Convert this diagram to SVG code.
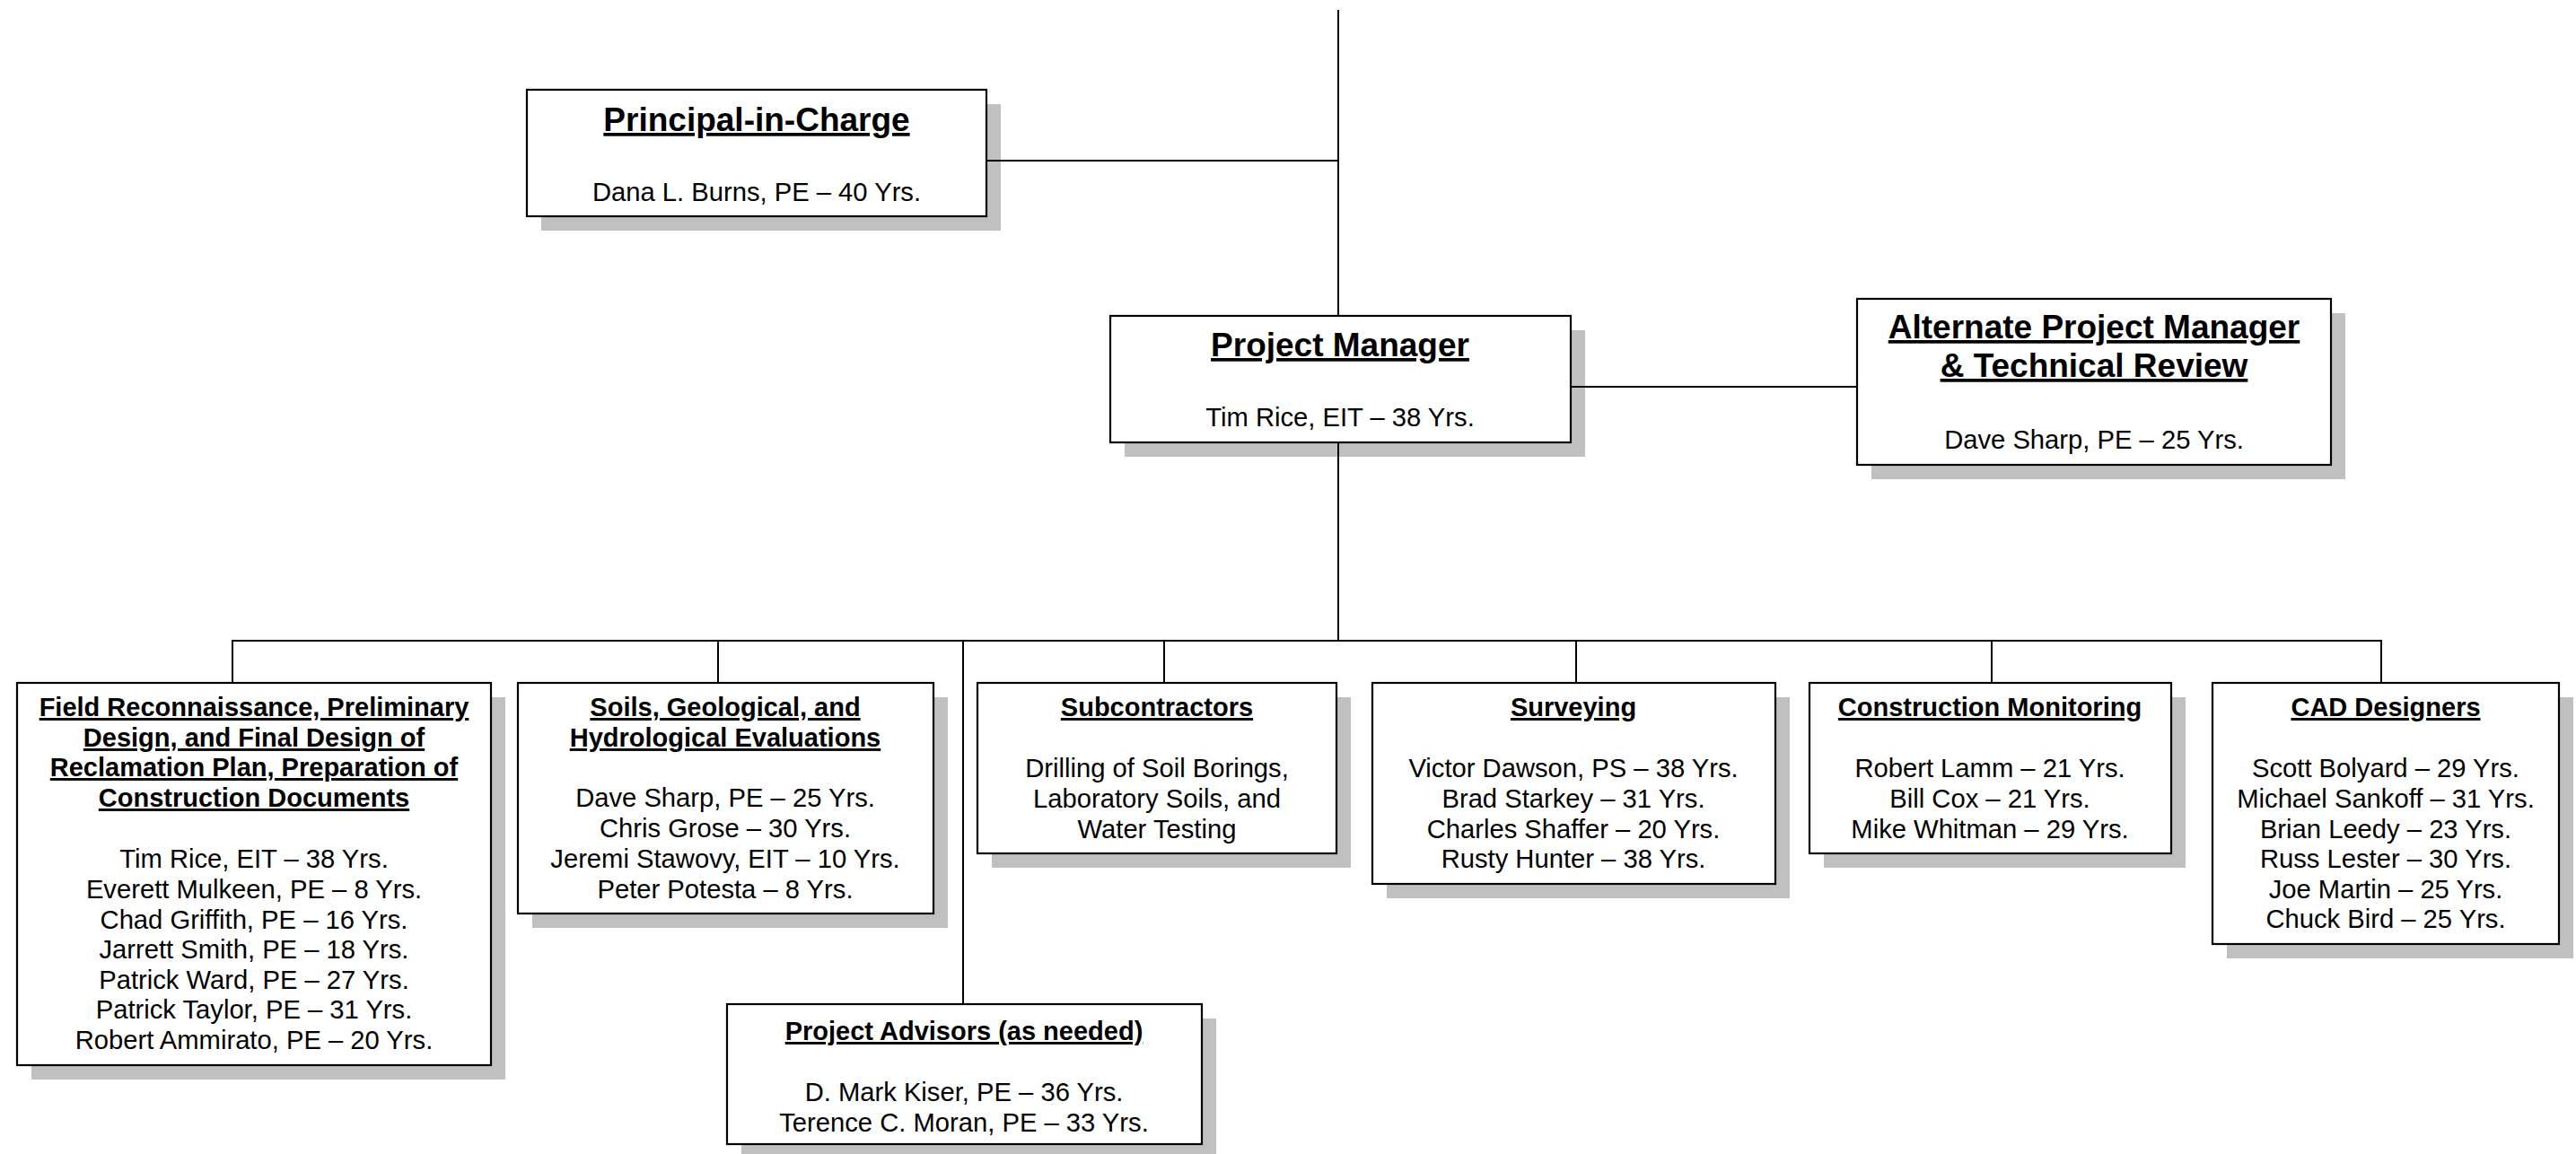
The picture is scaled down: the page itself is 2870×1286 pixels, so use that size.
<svg xmlns="http://www.w3.org/2000/svg" width="2870" height="1286" viewBox="0 0 2870 1286">
<style>
  .bg { fill: #ffffff; }
  .shadow { fill: #c0c0c0; }
  .box { fill: #ffffff; stroke: #000000; stroke-width: 2.2; }
  .conn { stroke: #000000; stroke-width: 2; fill: none; }
  text { font-family: "Liberation Sans", Arial, sans-serif; fill: #000000; text-anchor: middle; }
  .t1 { font-size: 37px; font-weight: bold; text-decoration: underline; }
  .t2 { font-size: 29px; font-weight: bold; text-decoration: underline; }
  .b { font-size: 29.2px; }
</style>
<rect class="bg" x="0" y="0" width="2870" height="1286"/>

<g id="principal">
  <rect class="shadow" x="603" y="116" width="512" height="141"/>
  <rect class="box" x="587" y="100" width="512" height="141"/>
  <text class="t1" x="843" y="146">Principal-in-Charge</text>
  <text class="b" x="843" y="224">Dana L. Burns, PE – 40 Yrs.</text>
</g>

<g id="project-manager">
  <rect class="shadow" x="1253" y="368" width="513" height="141"/>
  <rect class="box" x="1237" y="352" width="513" height="141"/>
  <text class="t1" x="1493" y="397">Project Manager</text>
  <text class="b" x="1493" y="475">Tim Rice, EIT – 38 Yrs.</text>
</g>

<g id="alternate-pm">
  <rect class="shadow" x="2085" y="349" width="528" height="185"/>
  <rect class="box" x="2069" y="333" width="528" height="185"/>
  <text class="t1" x="2333" y="377">Alternate Project Manager</text>
  <text class="t1" x="2333" y="420">&amp; Technical Review</text>
  <text class="b" x="2333" y="500">Dave Sharp, PE – 25 Yrs.</text>
</g>

<g id="field-design">
  <rect class="shadow" x="35" y="777" width="528" height="426"/>
  <rect class="box" x="19" y="761" width="528" height="426"/>
  <text class="t2" x="283" y="798">Field Reconnaissance, Preliminary</text>
  <text class="t2" x="283" y="832">Design, and Final Design of</text>
  <text class="t2" x="283" y="865">Reclamation Plan, Preparation of</text>
  <text class="t2" x="283" y="899">Construction Documents</text>
  <text class="b" x="283" y="967">Tim Rice, EIT – 38 Yrs.</text>
  <text class="b" x="283" y="1001">Everett Mulkeen, PE – 8 Yrs.</text>
  <text class="b" x="283" y="1035">Chad Griffith, PE – 16 Yrs.</text>
  <text class="b" x="283" y="1068">Jarrett Smith, PE – 18 Yrs.</text>
  <text class="b" x="283" y="1102">Patrick Ward, PE – 27 Yrs.</text>
  <text class="b" x="283" y="1135">Patrick Taylor, PE – 31 Yrs.</text>
  <text class="b" x="283" y="1169">Robert Ammirato, PE – 20 Yrs.</text>
</g>

<g id="soils">
  <rect class="shadow" x="593" y="777" width="463" height="257"/>
  <rect class="box" x="577" y="761" width="463" height="257"/>
  <text class="t2" x="808" y="798">Soils, Geological, and</text>
  <text class="t2" x="808" y="832">Hydrological Evaluations</text>
  <text class="b" x="808" y="899">Dave Sharp, PE – 25 Yrs.</text>
  <text class="b" x="808" y="933">Chris Grose – 30 Yrs.</text>
  <text class="b" x="808" y="967">Jeremi Stawovy, EIT – 10 Yrs.</text>
  <text class="b" x="808" y="1001">Peter Potesta – 8 Yrs.</text>
</g>

<g id="subcontractors">
  <rect class="shadow" x="1105" y="777" width="400" height="190"/>
  <rect class="box" x="1089" y="761" width="400" height="190"/>
  <text class="t2" x="1289" y="798">Subcontractors</text>
  <text class="b" x="1289" y="866">Drilling of Soil Borings,</text>
  <text class="b" x="1289" y="900">Laboratory Soils, and</text>
  <text class="b" x="1289" y="934">Water Testing</text>
</g>

<g id="surveying">
  <rect class="shadow" x="1545" y="777" width="449" height="224"/>
  <rect class="box" x="1529" y="761" width="449" height="224"/>
  <text class="t2" x="1753" y="798">Surveying</text>
  <text class="b" x="1753" y="866">Victor Dawson, PS – 38 Yrs.</text>
  <text class="b" x="1753" y="900">Brad Starkey – 31 Yrs.</text>
  <text class="b" x="1753" y="934">Charles Shaffer – 20 Yrs.</text>
  <text class="b" x="1753" y="967">Rusty Hunter – 38 Yrs.</text>
</g>

<g id="construction-monitoring">
  <rect class="shadow" x="2032" y="777" width="403" height="190"/>
  <rect class="box" x="2016" y="761" width="403" height="190"/>
  <text class="t2" x="2217" y="798">Construction Monitoring</text>
  <text class="b" x="2217" y="866">Robert Lamm – 21 Yrs.</text>
  <text class="b" x="2217" y="900">Bill Cox – 21 Yrs.</text>
  <text class="b" x="2217" y="934">Mike Whitman – 29 Yrs.</text>
</g>

<g id="cad-designers">
  <rect class="shadow" x="2481" y="777" width="386" height="291"/>
  <rect class="box" x="2465" y="761" width="386" height="291"/>
  <text class="t2" x="2658" y="798">CAD Designers</text>
  <text class="b" x="2658" y="866">Scott Bolyard – 29 Yrs.</text>
  <text class="b" x="2658" y="900">Michael Sankoff – 31 Yrs.</text>
  <text class="b" x="2658" y="934">Brian Leedy – 23 Yrs.</text>
  <text class="b" x="2658" y="967">Russ Lester – 30 Yrs.</text>
  <text class="b" x="2658" y="1001">Joe Martin – 25 Yrs.</text>
  <text class="b" x="2658" y="1034">Chuck Bird – 25 Yrs.</text>
</g>

<g id="project-advisors">
  <rect class="shadow" x="826" y="1135" width="529" height="156"/>
  <rect class="box" x="810" y="1119" width="529" height="156"/>
  <text class="t2" x="1074" y="1159">Project Advisors (as needed)</text>
  <text class="b" x="1074" y="1227">D. Mark Kiser, PE – 36 Yrs.</text>
  <text class="b" x="1074" y="1261">Terence C. Moran, PE – 33 Yrs.</text>
</g>

<g id="connectors">
  <line class="conn" x1="1491" y1="11" x2="1491" y2="352"/>
  <line class="conn" x1="1099" y1="179" x2="1491" y2="179"/>
  <line class="conn" x1="1750" y1="431" x2="2069" y2="431"/>
  <line class="conn" x1="1491" y1="493" x2="1491" y2="714"/>
  <line class="conn" x1="258" y1="714" x2="2654" y2="714"/>
  <line class="conn" x1="259" y1="714" x2="259" y2="761"/>
  <line class="conn" x1="800" y1="714" x2="800" y2="761"/>
  <line class="conn" x1="1297" y1="714" x2="1297" y2="761"/>
  <line class="conn" x1="1756" y1="714" x2="1756" y2="761"/>
  <line class="conn" x1="2219" y1="714" x2="2219" y2="761"/>
  <line class="conn" x1="2653" y1="714" x2="2653" y2="761"/>
  <line class="conn" x1="1073" y1="714" x2="1073" y2="1119"/>
</g>
</svg>
